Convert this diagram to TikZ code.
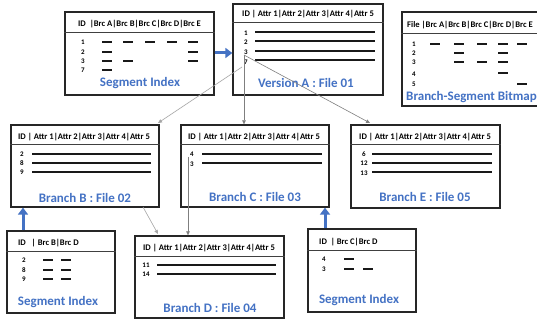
\documentclass[tikz,border=0pt]{standalone}
\usepackage{fontspec}
\setmainfont{Carlito}
\usetikzlibrary{arrows.meta}
\definecolor{hblue}{HTML}{4472C4}
\definecolor{dgray}{HTML}{7F7F7F}
\definecolor{lgray}{HTML}{A6A6A6}
\begin{document}
\begin{tikzpicture}[x=1pt,y=-1pt,
 tbl/.style={draw=black!85, line width=1.3pt, inner sep=0pt, fill=white},
 hline/.style={line width=0.9pt, draw=black!75},
 rowline/.style={line width=1.1pt, draw=black!90},
 dashseg/.style={line width=1.4pt, draw=black!90},
 hdr/.style={font=\fontsize{8.6}{9}\selectfont\bfseries, anchor=west, inner sep=0pt},
 num/.style={font=\fontsize{7}{8}\selectfont\bfseries, inner sep=0pt},
 lbl/.style={font=\fontsize{13}{14}\selectfont\bfseries, text=hblue, inner sep=0pt},
 barrow/.style={draw=hblue, line width=3pt, -{Triangle[length=7pt,width=10pt]}},
 darrow/.style={draw=dgray, line width=0.6pt, -{Triangle[length=4pt,width=3.5pt]}},
 larrow/.style={draw=lgray, line width=0.6pt, -{Triangle[length=4pt,width=3.5pt]}},
]
\useasboundingbox (0,0) rectangle (537,320);
\fill[white] (0,0) rectangle (537,320);
\clip (0,0) rectangle (537,320);

% ---------- Segment Index (top) ----------
\node[tbl, minimum width=149pt, minimum height=83pt] (si1) at (139.5,53.5) {};
\draw[hline] (si1.west |- 0,32) -- (si1.east |- 0,32);
\node[hdr] (si1h) at (78,24) {ID~~|Brc A|Brc B|Brc C|Brc D|Brc E};
\foreach \n/\y in {1/42,2/52,3/61,7/70} \node[num] (si1n\n) at (83,\y) {\n};
\foreach \xa in {102,123,145,167,188} \draw[dashseg] (\xa,42) -- ++(10,0);
\foreach \xa in {102,188} \draw[dashseg] (\xa,52) -- ++(10,0);
\foreach \xa in {102,123,188} \draw[dashseg] (\xa,61) -- ++(10,0);
\draw[dashseg] (102,70) -- ++(10,0);
\node[lbl] (si1l) at (140,83) {Segment Index};

% ---------- Version A ----------
\node[tbl, minimum width=150pt, minimum height=91pt] (va) at (308,49.5) {};
\draw[hline] (va.west |- 0,22) -- (va.east |- 0,22);
\node[hdr] (vah) at (242,14) {ID | Attr 1|Attr 2|Attr 3|Attr 4|Attr 5};
\foreach \n/\y in {1/33,2/42,3/52,7/62} \node[num] (van\n) at (246,\y) {\n};
\foreach \y in {32,41,51,60} \draw[rowline] (255,\y) -- (375,\y);
\node[lbl] (val) at (306,83) {Version A : File 01};

% ---------- Branch-Segment Bitmap ----------
\node[tbl, minimum width=143pt, minimum height=94pt] (bsb) at (473.5,59) {};
\draw[hline] (bsb.west |- 0,33) -- (bsb.east |- 0,33);
\node[hdr] (bsbh) at (407,25) {File |Brc A|Brc B|Brc C|Brc D|Brc E};
\foreach \n/\y in {1/44,2/53,3/62,4/74,5/84} \node[num] (bsbn\n) at (414,\y) {\n};
\foreach \xa in {430,454,477,498,517} \draw[dashseg] (\xa,44) -- ++(10,0);
\foreach \xa in {454,498} \draw[dashseg] (\xa,53) -- ++(10,0);
\foreach \xa in {454,477,498} \draw[dashseg] (\xa,62) -- ++(10,0);
\draw[dashseg] (498,73) -- ++(10,0);
\draw[dashseg] (517,84) -- ++(10,0);
\node[lbl, anchor=west] (bsbl) at (406,97) {Branch-Segment Bitmap};

% ---------- Branch B ----------
\node[tbl, minimum width=148pt, minimum height=82pt] (bb) at (85,166) {};
\draw[hline] (bb.west |- 0,144) -- (bb.east |- 0,144);
\node[hdr] (bbh) at (18,137) {ID | Attr 1|Attr 2|Attr 3|Attr 4|Attr 5};
\foreach \n/\y in {2/154,8/163,9/172} \node[num] (bbn\n) at (22,\y) {\n};
\foreach \y in {154,163,172} \draw[rowline] (32,\y) -- (151,\y);
\node[lbl] (bbl) at (85,198) {Branch B : File 02};

% ---------- Branch C ----------
\node[tbl, minimum width=148pt, minimum height=82pt] (bc) at (255,166) {};
\draw[hline] (bc.west |- 0,144) -- (bc.east |- 0,144);
\node[hdr] (bch) at (188,137) {ID | Attr 1|Attr 2|Attr 3|Attr 4|Attr 5};
\foreach \n/\y in {4/154,3/164} \node[num] (bcn\n) at (192,\y) {\n};
\foreach \y in {154,163} \draw[rowline] (202,\y) -- (322,\y);
\node[lbl] (bcl) at (255,197) {Branch C : File 03};

% ---------- Branch E ----------
\node[tbl, minimum width=149pt, minimum height=83pt] (be) at (425.5,166.5) {};
\draw[hline] (be.west |- 0,144) -- (be.east |- 0,144);
\node[hdr] (beh) at (359,137) {ID | Attr 1|Attr 2|Attr 3|Attr 4|Attr 5};
\foreach \n/\y in {6/154,12/163,13/173} \node[num] (ben\n) at (364,\y) {\n};
\foreach \y in {154,163,172} \draw[rowline] (372,\y) -- (492,\y);
\node[lbl] (bel) at (425,197) {Branch E : File 05};

% ---------- Branch D ----------
\node[tbl, minimum width=149pt, minimum height=82pt] (bd) at (209.5,277) {};
\draw[hline] (bd.west |- 0,256) -- (bd.east |- 0,256);
\node[hdr] (bdh) at (143,248) {ID | Attr 1|Attr 2|Attr 3|Attr 4|Attr 5};
\foreach \n/\y in {11/265,14/274} \node[num] (bdn\n) at (146,\y) {\n};
\foreach \y in {265,274} \draw[rowline] (157,\y) -- (276,\y);
\node[lbl] (bdl) at (210,308) {Branch D : File 04};

% ---------- Segment Index (bottom left) ----------
\node[tbl, minimum width=108pt, minimum height=82pt] (si2) at (61,272) {};
\draw[hline] (si2.west |- 0,251) -- (si2.east |- 0,251);
\node[hdr] (si2h) at (18,243) {ID~~~| Brc B|Brc D};
\foreach \n/\y in {2/260,8/270,9/279} \node[num] (si2n\n) at (24,\y) {\n};
\foreach \y in {260,270,279} {
  \draw[dashseg] (43,\y) -- ++(10,0);
  \draw[dashseg] (61,\y) -- ++(10,0);
}
\node[lbl] (si2l) at (58,302) {Segment Index};

% ---------- Segment Index (bottom right) ----------
\node[tbl, minimum width=108pt, minimum height=83pt] (si3) at (362,270.5) {};
\draw[hline] (si3.west |- 0,250) -- (si3.east |- 0,250);
\node[hdr] (si3h) at (319,242) {ID~~| Brc C|Brc D};
\foreach \n/\y in {4/259,3/269} \node[num] (si3n\n) at (324,\y) {\n};
\draw[dashseg] (344,259) -- ++(10,0);
\draw[dashseg] (344,269) -- ++(10,0);
\draw[dashseg] (363,269) -- ++(10,0);
\node[lbl] (si3l) at (359,300) {Segment Index};

% ---------- connectors ----------
\draw[barrow] (si1.east |- 0,53) -- (va.west |- 0,53);
\draw[barrow] (si2.north -| 23,0) -- (bb.south -| 23,0);
\draw[barrow] (si3.north -| 325,0) -- (bc.south -| 325,0);

\coordinate (v7) at (242,67);
\coordinate (v3) at (244,55);
\coordinate (c4) at (188,157);
\coordinate (tbb) at (158,123);
\coordinate (tbe) at (370,123);
\coordinate (tbd) at (158,234);
\coordinate (sbb) at (143,207);

\draw[larrow] (v7) -- (tbb);
\draw[darrow] (v3) -- (v3 |- bc.north);
\draw[darrow] (v3) -- (tbe);
\draw[larrow] (sbb) -- (tbd);
\draw[darrow] (c4) -- (c4 |- bd.north);
\end{tikzpicture}
\end{document}
